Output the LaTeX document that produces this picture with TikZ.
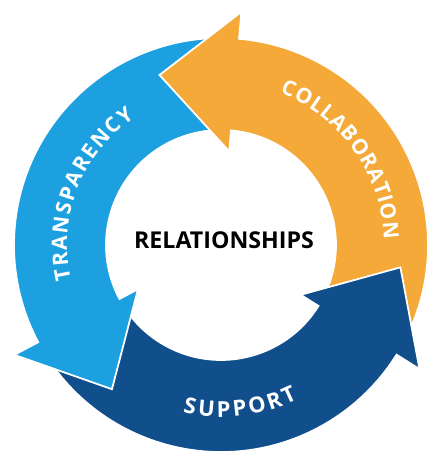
\documentclass[tikz,border=0pt]{standalone}
\usepackage{fontspec}
\setmainfont{Open Sans}
\usetikzlibrary{decorations.text}
\definecolor{ringorange}{RGB}{244,169,56}
\definecolor{ringblue}{RGB}{28,160,224}
\definecolor{ringnavy}{RGB}{16,78,140}
\newcommand{\ringfont}{\bfseries\fontsize{12}{14}\selectfont}

\begin{document}
\begin{tikzpicture}[x=0.02cm, y=0.02cm,
	band/.style={draw=white, line width=1pt, line join=miter},
	ringtext/.style={decorate, decoration={text along path, text color=white, text align={fit to path}}}]
	\fill[white] (0,0) rectangle (443,462);
	\useasboundingbox (0,0) rectangle (443,462);
	\begin{scope}[shift={(221,217)}]
		% support, bottom
		\filldraw[band, fill=ringnavy] (208:207) arc[start angle=208, end angle=328, radius=207] -- (328:234) -- (352.9:180.8) -- (328:94) -- (328:115) arc[start angle=328, end angle=208, radius=115] -- cycle;
		% transparency, left
		\filldraw[band, fill=ringblue] (85:207) arc[start angle=85, end angle=208, radius=207] -- (208:234) -- (232.9:180.8) -- (208:94) -- (208:115) arc[start angle=208, end angle=85, radius=115] -- cycle;
		% collaboration, right
		\filldraw[band, fill=ringorange] (-32:207) arc[start angle=-32, end angle=85, radius=207] -- (85:234) -- (109.9:180.8) -- (85:94) -- (85:115) arc[start angle=85, end angle=-32, radius=115] -- cycle;
		% support head again, over the collaboration tail
		\begin{scope}
			\clip (0,0) -- (324:250) arc[start angle=324, end angle=362, radius=250] -- cycle;
			\filldraw[band, fill=ringnavy] (208:207) arc[start angle=208, end angle=328, radius=207] -- (328:234) -- (352.9:180.8) -- (328:94) -- (328:115) arc[start angle=328, end angle=208, radius=115] -- cycle;
		\end{scope}
		\path[ringtext, decoration={text={|\ringfont|COLLABORATION}}] (68.8:163) arc[start angle=68.8, end angle=2, radius=163];
		\path[ringtext, decoration={text={|\ringfont|TRANSPARENCY}}] (193:154) arc[start angle=193, end angle=124, radius=154];
		\path[ringtext, decoration={text={|\ringfont\fontsize{12.5}{15}\selectfont|SUPPORT}}] (257.2:172) arc[start angle=257.2, end angle=296.5, radius=172];
	\end{scope}
	\node[font=\bfseries\fontsize{13.2}{16}\selectfont] (rel) at (224,221.5) {RELATIONSHIPS};
\end{tikzpicture}
\end{document}
